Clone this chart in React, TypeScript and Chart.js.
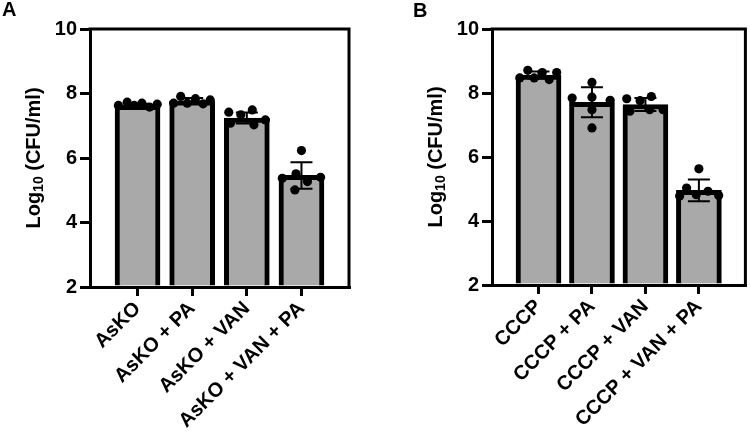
import React, { useEffect, useRef } from "react";
import { Chart, registerables } from "chart.js";

Chart.register(...registerables);

const labelsA = ["AsKO", "AsKO + PA", "AsKO + VAN", "AsKO + VAN + PA"];
const labelsB = ["CCCP", "CCCP + PA", "CCCP + VAN", "CCCP + VAN + PA"];

const meansA = [7.63, 7.77, 7.24, 5.46];
const sdA = [0.05, 0.09, 0.17, 0.41];
const meansB = [8.56, 7.71, 7.64, 4.96];
const sdB = [0.11, 0.47, 0.2, 0.34];

const pointsA = [
  [7.63, 7.73, 7.63, 7.7, 7.58, 7.67],
  [7.7, 7.91, 7.7, 7.84, 7.68, 7.8],
  [7.42, 7.34, 7.49, 7.08, 7.03, 7.18],
  [6.23, 5.37, 5.51, 5.27, 5.4, 5.01],
];
const jitterA = [
  [-0.35, -0.19, -0.06, 0.08, 0.22, 0.36],
  [-0.34, -0.21, -0.09, 0.06, 0.2, 0.33],
  [-0.33, -0.11, 0.1, -0.3, 0.13, 0.34],
  [0, -0.35, -0.1, 0.11, 0.35, -0.12],
];
const pointsB = [
  [8.47, 8.71, 8.47, 8.64, 8.42, 8.64],
  [7.84, 8.33, 7.87, 7.48, 6.91, 7.77],
  [7.82, 7.76, 7.89, 7.43, 7.48, 7.48],
  [4.78, 5.03, 5.63, 4.82, 4.93, 4.8],
];
const jitterB = [
  [-0.35, -0.2, -0.08, 0.07, 0.2, 0.34],
  [-0.37, 0, 0, 0, 0, 0.34],
  [-0.35, -0.1, 0.11, -0.29, 0.08, 0.33],
  [-0.36, -0.23, 0, -0.05, 0.17, 0.37],
];

const yTicks = [2, 4, 6, 8, 10];
const yTitleMain = "Log";
const yTitleSub = "10";
const yTitleRest = " (CFU/ml)";

const FONT = 'Arial, "Liberation Sans", Helvetica, sans-serif';

const errorBarPlugin = {
  id: "errorBars",
  afterDatasetsDraw(chart: any, _args: any, opts: any) {
    const { ctx } = chart;
    const xs = chart.scales.x;
    const ys = chart.scales.y;
    const means: number[] = opts.means;
    const sds: number[] = opts.sds;
    ctx.save();
    ctx.strokeStyle = "#000";
    ctx.lineWidth = 2;
    means.forEach((m, i) => {
      const x = xs.getPixelForValue(i);
      const yt = ys.getPixelForValue(m + sds[i]);
      const yb = ys.getPixelForValue(m - sds[i]);
      ctx.beginPath();
      ctx.moveTo(x, yt);
      ctx.lineTo(x, yb);
      ctx.moveTo(x - 11, yt);
      ctx.lineTo(x + 11, yt);
      ctx.moveTo(x - 11, yb);
      ctx.lineTo(x + 11, yb);
      ctx.stroke();
    });
    ctx.restore();
  },
};

const framePlugin = {
  id: "frame",
  afterDraw(chart: any) {
    const { ctx, chartArea } = chart;
    ctx.save();
    ctx.strokeStyle = "#000";
    ctx.lineWidth = 3;
    ctx.beginPath();
    ctx.moveTo(chartArea.left - 1.5, chartArea.top);
    ctx.lineTo(chartArea.right, chartArea.top);
    ctx.lineTo(chartArea.right, chartArea.bottom + 1.5);
    ctx.stroke();
    ctx.restore();
  },
};

// y-axis title with a real subscript
const yTitlePlugin = {
  id: "yTitle",
  afterDraw(chart: any, _args: any, opts: any) {
    const { ctx, chartArea } = chart;
    const big = `bold 20px ${FONT}`;
    const small = `bold 14px ${FONT}`;
    ctx.save();
    ctx.font = big;
    const w1 = ctx.measureText(yTitleMain).width;
    const w3 = ctx.measureText(yTitleRest).width;
    ctx.font = small;
    const w2 = ctx.measureText(yTitleSub).width;
    const total = w1 + w2 + w3;
    const cy = (chartArea.top + chartArea.bottom) / 2;
    ctx.translate(opts.x, cy);
    ctx.rotate(-Math.PI / 2);
    ctx.fillStyle = "#000";
    ctx.textBaseline = "middle";
    ctx.textAlign = "left";
    let x = -total / 2;
    ctx.font = big;
    ctx.fillText(yTitleMain, x, 0);
    x += w1;
    ctx.font = small;
    ctx.fillText(yTitleSub, x, 5);
    x += w2;
    ctx.font = big;
    ctx.fillText(yTitleRest, x, 0);
    ctx.restore();
  },
};

function makeConfig(
  labels: string[],
  means: number[],
  sds: number[],
  points: number[][],
  jitter: number[][],
  padLeft: number,
  padRight: number,
  xHeight: number
): any {
  const scatter: { x: number; y: number }[] = [];
  points.forEach((arr, i) =>
    arr.forEach((v, j) => scatter.push({ x: i + jitter[i][j], y: v }))
  );
  return {
    type: "bar",
    data: {
      datasets: [
        {
          type: "bar",
          data: means.map((m, i) => ({ x: i, y: m })),
          backgroundColor: "#a9a9a9",
          borderColor: "#000",
          borderWidth: 5,
          borderSkipped: "start",
          barThickness: 45,
          base: 2,
          order: 2,
        },
        {
          type: "scatter",
          data: scatter,
          pointRadius: 4.6,
          pointBackgroundColor: "#000",
          pointBorderWidth: 0,
          order: 1,
        },
      ],
    },
    options: {
      animation: false,
      responsive: false,
      layout: { padding: { left: padLeft, right: padRight, top: 29, bottom: 0 } },
      plugins: {
        legend: { display: false },
        tooltip: { enabled: false },
        errorBars: { means, sds },
        yTitle: { x: padLeft + 34 },
      },
      scales: {
        x: {
          type: "linear",
          offset: false,
          min: -0.87,
          max: 3.87,
          afterBuildTicks: (s: any) => {
            s.ticks = labels.map((_, i) => ({ value: i }));
          },
          afterFit: (s: any) => {
            s.height = xHeight;
          },
          ticks: {
            callback: (v: any) => labels[v],
            minRotation: 45,
            maxRotation: 45,
            autoSkip: false,
            color: "#000",
            padding: 1,
            font: { family: FONT, size: 20, weight: "bold" },
          },
          grid: {
            offset: false,
            drawOnChartArea: false,
            drawTicks: true,
            tickLength: 9,
            lineWidth: 3,
            color: "#000",
          },
          border: { display: true, width: 3, color: "#000" },
        },
        y: {
          type: "linear",
          min: 2,
          max: 10,
          afterBuildTicks: (s: any) => {
            s.ticks = yTicks.map((v) => ({ value: v }));
          },
          afterFit: (s: any) => {
            s.width = 90;
          },
          ticks: {
            color: "#000",
            padding: 3,
            font: { family: FONT, size: 20, weight: "bold" },
          },
          grid: {
            drawOnChartArea: false,
            drawTicks: true,
            tickLength: 10,
            lineWidth: 3,
            color: "#000",
          },
          border: { display: true, width: 3, color: "#000" },
        },
      },
    },
    plugins: [errorBarPlugin, framePlugin, yTitlePlugin],
  };
}

export default function App() {
  const refA = useRef<HTMLCanvasElement>(null);
  const refB = useRef<HTMLCanvasElement>(null);

  useEffect(() => {
    const a = new Chart(
      refA.current!,
      makeConfig(labelsA, meansA, sdA, pointsA, jitterA, 0, 26, 147)
    );
    const b = new Chart(
      refB.current!,
      makeConfig(labelsB, meansB, sdB, pointsB, jitterB, 27, 2, 149)
    );
    return () => {
      a.destroy();
      b.destroy();
    };
  }, []);

  const letter: React.CSSProperties = {
    position: "absolute",
    fontFamily: FONT,
    fontWeight: "bold",
    fontSize: 20,
    lineHeight: "20px",
    color: "#000",
  };

  return (
    <div
      style={{
        position: "absolute",
        left: 0,
        top: 0,
        width: 750,
        height: 434,
        background: "#fff",
        overflow: "hidden",
      }}
    >
      <canvas
        ref={refA}
        width={375}
        height={434}
        style={{ position: "absolute", left: 0, top: 0, width: 375, height: 434 }}
      />
      <canvas
        ref={refB}
        width={375}
        height={434}
        style={{ position: "absolute", left: 375, top: 0, width: 375, height: 434 }}
      />
      <div style={{ ...letter, left: 2, top: -1 }}>A</div>
      <div style={{ ...letter, left: 413, top: 0 }}>B</div>
    </div>
  );
}
